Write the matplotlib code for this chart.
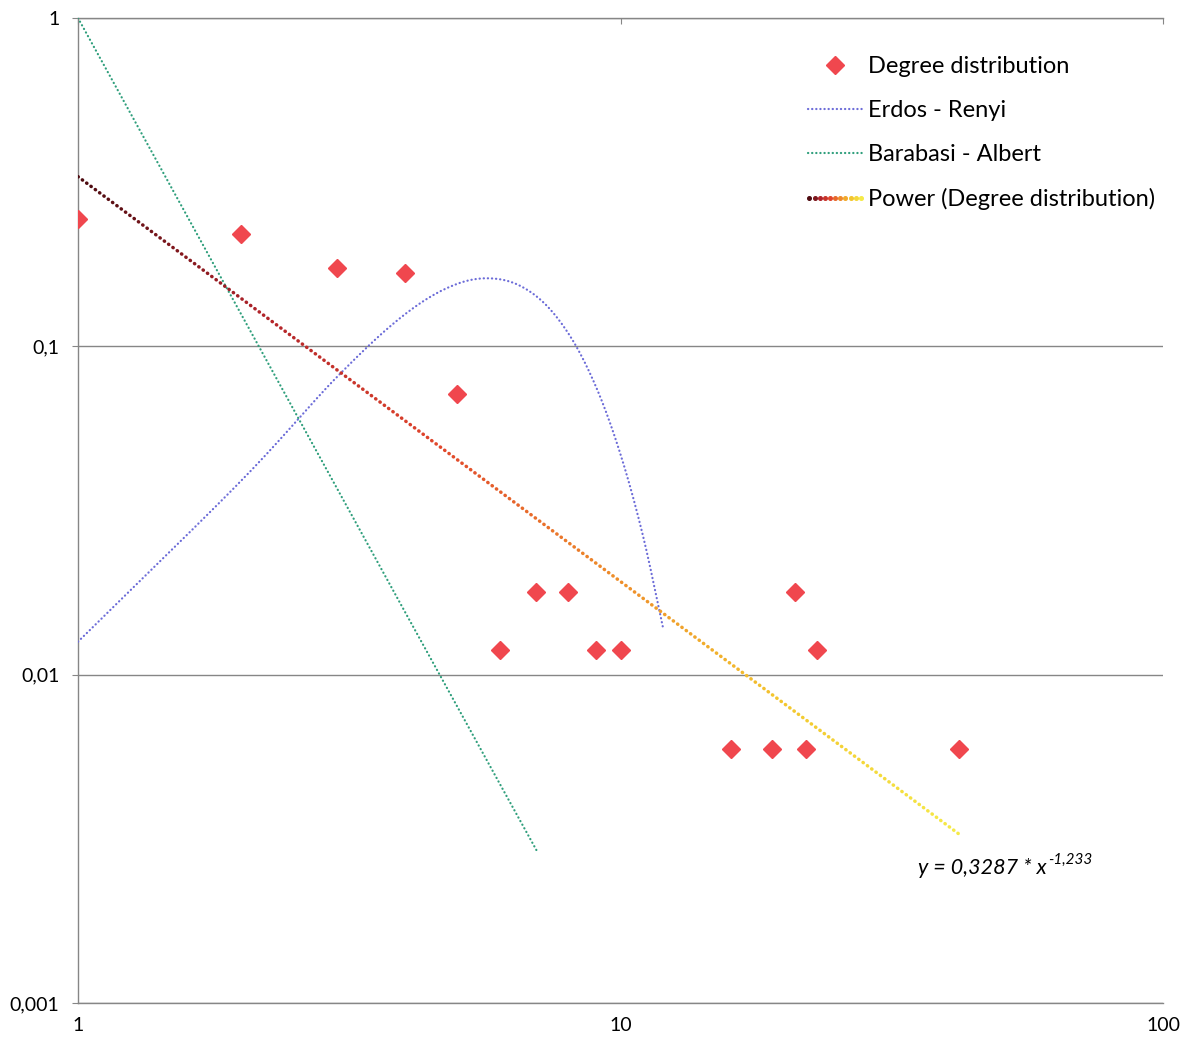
import numpy as np
import matplotlib
matplotlib.use("Agg")
import matplotlib.pyplot as plt
import matplotlib.transforms as mtransforms
from matplotlib.colors import LinearSegmentedColormap
from matplotlib.legend_handler import HandlerBase
from matplotlib.lines import Line2D
from matplotlib.patches import Rectangle
from matplotlib.ticker import NullLocator

plt.rcParams["font.family"] = ["Lato", "DejaVu Sans"]

# observed degree distribution
degree = [1, 2, 3, 4, 5, 6, 7, 8, 9, 10, 16, 19, 21, 22, 23, 42]
prob = [0.244, 0.220, 0.173, 0.167, 0.0714, 0.0119, 0.0179, 0.0179,
        0.0119, 0.0119, 0.00595, 0.00595, 0.0179, 0.00595, 0.0119, 0.00595]

# Erdos - Renyi reference curve
er_k = [1, 2, 3, 4, 5, 6, 7, 8, 9, 10, 11, 12]
er_p = [0.0126, 0.0390, 0.0806, 0.125, 0.155, 0.160, 0.142, 0.110,
        0.0757, 0.0469, 0.0265, 0.0137]

# Barabasi - Albert reference curve
ba_k = [1, 2, 3, 4, 5, 6, 7]
ba_p = [1.0, 0.125, 0.0370, 0.0156, 0.0080, 0.00463, 0.00292]

# power trend line y = a * x^b fitted to the degree distribution
fit_a = 0.3287
fit_b = -1.233
fit_x = (1, 42)

x_ticks = [1, 10, 100]
x_labels = ["1", "10", "100"]
y_ticks = [0.001, 0.01, 0.1, 1]
y_labels = ["0,001", "0,01", "0,1", "1"]

GRAY = "#868686"
MARKER_RED = "#f0474e"
ER_COLOR = "#6c6cd8"
BA_COLOR = "#2f9f7c"
trend_cmap = LinearSegmentedColormap.from_list(
    "trend", ["#4e0b10", "#b0232a", "#e0452c", "#ee8a2a", "#f3c62e", "#f5ea48"])


def smooth(xs, ys, n=24):
    """Catmull-Rom curve through the points, done in log-log space."""
    lx, ly = np.log10(xs), np.log10(ys)
    px = np.concatenate([[2 * lx[0] - lx[1]], lx, [2 * lx[-1] - lx[-2]]])
    py = np.concatenate([[2 * ly[0] - ly[1]], ly, [2 * ly[-1] - ly[-2]]])
    t = np.linspace(0, 1, n, endpoint=False)
    cx, cy = [], []
    for i in range(1, len(px) - 2):
        for p, out in ((px, cx), (py, cy)):
            p0, p1, p2, p3 = p[i - 1], p[i], p[i + 1], p[i + 2]
            out.extend(0.5 * (2 * p1 + (p2 - p0) * t
                              + (2 * p0 - 5 * p1 + 4 * p2 - p3) * t ** 2
                              + (-p0 + 3 * p1 - 3 * p2 + p3) * t ** 3))
    cx.append(lx[-1])
    cy.append(ly[-1])
    return 10 ** np.array(cx), 10 ** np.array(cy)


class GradientDots(HandlerBase):
    def create_artists(self, legend, orig_handle, xdescent, ydescent,
                       width, height, fontsize, trans):
        n = 11
        xs = np.linspace(-xdescent + 1, -xdescent + width - 1, n)
        y = height / 2 - ydescent
        return [Line2D([x], [y], marker="o", markersize=2.6, linestyle="none",
                       color=trend_cmap(i / (n - 1)), transform=trans)
                for i, x in enumerate(xs)]


fig = plt.figure(figsize=(11.92, 10.40), dpi=100)
ax = fig.add_axes([78 / 1192, 1 - 1003 / 1040, (1163 - 78) / 1192, 985 / 1040])
ax.set_xscale("log")
ax.set_yscale("log")
ax.set_xlim(1, 100)
ax.set_ylim(0.001, 1)

dot_er = dict(lw=1.6, linestyle=(0, (0.1, 1.75)), dash_capstyle="round")

# reference models
sx, sy = smooth(er_k, er_p)
ax.plot(sx, sy, color=ER_COLOR, zorder=3, **dot_er)
ax.plot(ba_k, ba_p, color=BA_COLOR, zorder=3, **dot_er)

# trend line, coloured along its length by clipping copies to x bands
fx = np.geomspace(fit_x[0], fit_x[1], 200)
fy = fit_a * fx ** fit_b
bands = np.geomspace(fit_x[0], fit_x[1] * 1.02, 61)
blend = mtransforms.blended_transform_factory(ax.transData, ax.transAxes)
for i in range(len(bands) - 1):
    seg, = ax.plot(fx, fy, color=trend_cmap(i / (len(bands) - 2)), lw=2.5,
                   linestyle=(0, (0.1, 1.45)), dash_capstyle="round", zorder=3)
    seg.set_clip_path(Rectangle((bands[i], -0.1), bands[i + 1] - bands[i], 1.2,
                                transform=blend))

ax.plot(degree, prob, linestyle="none", marker="D", markersize=9,
        color=MARKER_RED, zorder=4)

# axes styling
for side in ("left", "bottom", "top"):
    ax.spines[side].set_color(GRAY)
    ax.spines[side].set_linewidth(1.0)
ax.spines["right"].set_visible(False)
ax.yaxis.grid(True, color=GRAY, lw=1.0)
ax.set_axisbelow(True)

ax.set_xticks(x_ticks, x_labels)
ax.set_yticks(y_ticks, y_labels)
ax.xaxis.set_minor_locator(NullLocator())
ax.yaxis.set_minor_locator(NullLocator())
ax.tick_params(axis="x", bottom=False, top=True, direction="in", length=4,
               color=GRAY, labelsize=14, pad=10)
ax.tick_params(axis="y", direction="out", length=4.5, color=GRAY,
               labelsize=14, pad=9)

# fitted equation
eq = ax.text(0.774, 0.137, "y = 0,3287 * x", transform=ax.transAxes,
             fontsize=15.5, style="italic", ha="left", va="center")
ax.annotate("-1,233", xy=(1, 1), xycoords=eq, xytext=(1, -1),
            textcoords="offset points", fontsize=11, style="italic",
            ha="left", va="center")

handles = [
    Line2D([], [], linestyle="none", marker="D", markersize=9, color=MARKER_RED),
    Line2D([], [], color=ER_COLOR, **dot_er),
    Line2D([], [], color=BA_COLOR, **dot_er),
    Line2D([], []),
]
labels = ["Degree distribution", "Erdos - Renyi", "Barabasi - Albert",
          "Power (Degree distribution)"]
ax.legend(handles, labels, handler_map={handles[3]: GradientDots()},
          loc="upper left", bbox_to_anchor=(808 / 1192, 1 - 56 / 1040),
          bbox_transform=fig.transFigure, frameon=False, fontsize=17,
          handlelength=2.3, handletextpad=0.22, labelspacing=0.97,
          borderpad=0, borderaxespad=0)

fig.savefig("out.png", dpi=100)
